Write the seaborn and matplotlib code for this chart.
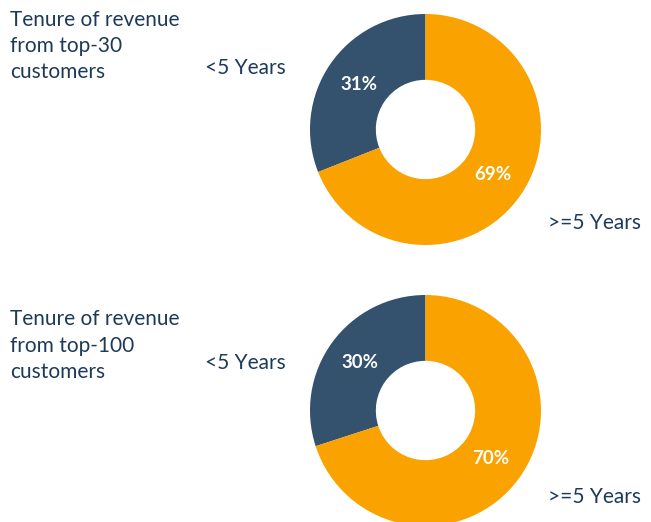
import matplotlib
matplotlib.use("Agg")
import matplotlib.pyplot as plt
import seaborn as sns

sns.set_theme(style="white")
plt.rcParams['font.family'] = ['Lato', 'DejaVu Sans']

# Data
categories = ["<5 Years", ">=5 Years"]
top30_values = [31, 69]
top100_values = [30, 70]
title_lines_30 = ["Tenure of revenue", "from top-30", "customers"]
title_lines_100 = ["Tenure of revenue", "from top-100", "customers"]

colors = ["#34516D", "#F9A200"]
text_color = "#1D3A59"

W, H = 651, 522
fig = plt.figure(figsize=(W / 100, H / 100), dpi=100)
fig.patch.set_facecolor("white")

R = 115.5
centers = [(425.5, 129.5), (425.5, 410.5)]  # pixel coords from top
datasets = [top30_values, top100_values]

for (cx, cy), vals in zip(centers, datasets):
    ax = fig.add_axes([(cx - R) / W, (H - cy - R) / H, 2 * R / W, 2 * R / H])
    wedges, texts, autotexts = ax.pie(
        vals, colors=colors, startangle=90, counterclock=True,
        radius=1.0, autopct=lambda p: f"{p:.0f}%", pctdistance=0.70,
        wedgeprops=dict(width=0.57, linewidth=0),
        textprops=dict(color="white", fontsize=13.5, fontweight="bold"))
    ax.set_xlim(-1, 1)
    ax.set_ylim(-1, 1)
    ax.axis("off")

fs = 15
def put(x, y, s):
    fig.text(x / W, 1 - y / H, s, ha="left", va="center", fontsize=fs, color=text_color)

# Titles
for i, line in enumerate(title_lines_30):
    put(10, 20.5 + 26 * i, line)
for i, line in enumerate(title_lines_100):
    put(10, 319 + 26.5 * i, line)

# Category labels
put(205, 68, categories[0])
put(548, 223, categories[1])
put(205, 363, categories[0])
put(548, 497, categories[1])

fig.savefig("out.png", dpi=100, facecolor="white")
